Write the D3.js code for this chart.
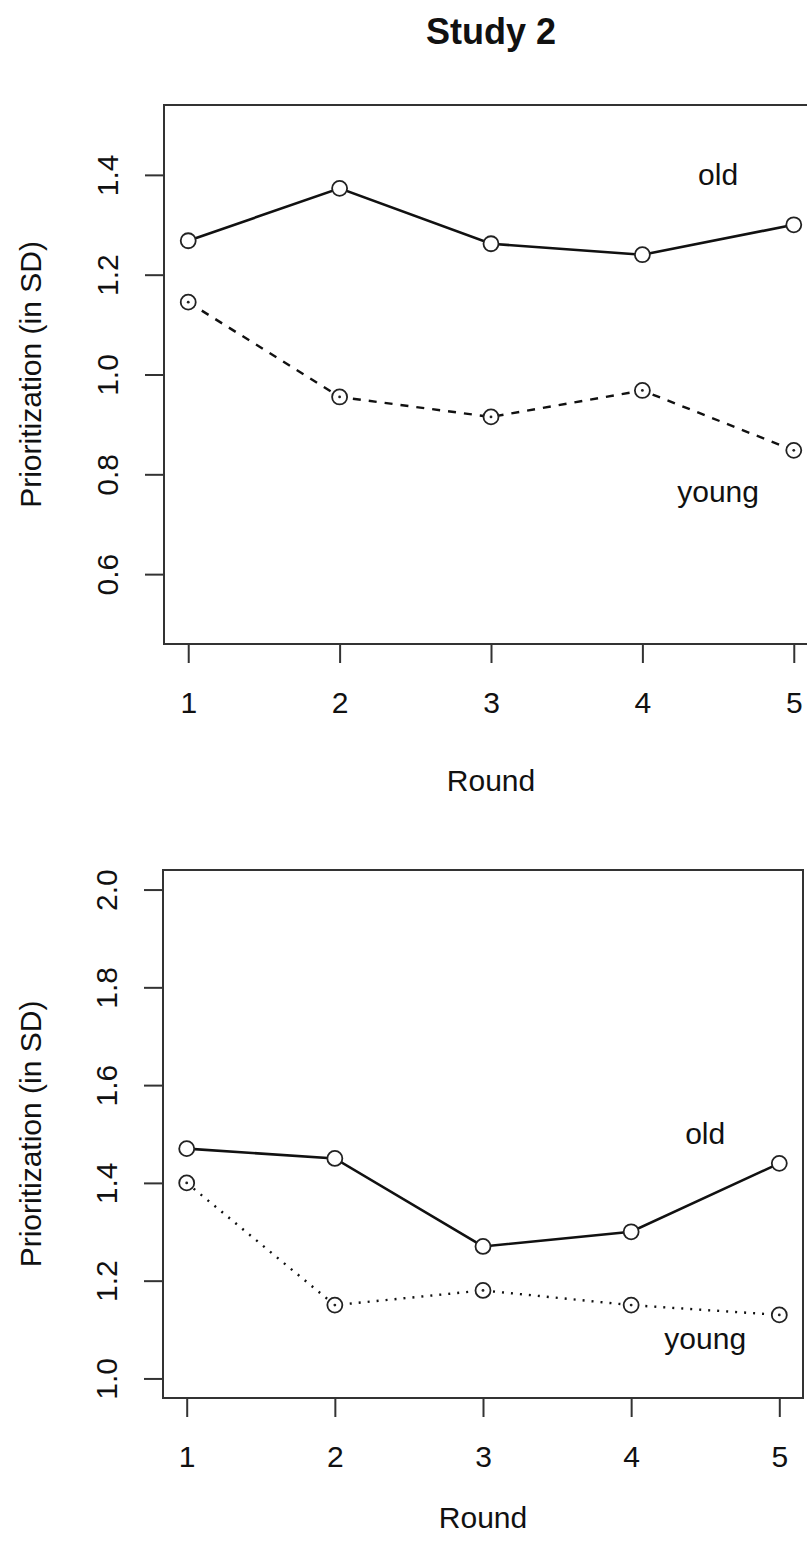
<!DOCTYPE html>
<html>
<head>
<meta charset="utf-8">
<script src="https://cdn.jsdelivr.net/npm/d3@7"></script>
<style>
  body { margin: 0; background: #fff; }
  text { font-family: "Liberation Sans", Arial, Helvetica, sans-serif; fill: #111; }
</style>
</head>
<body>
<div id="chart"></div>
<script>
// data
var rounds = [1, 2, 3, 4, 5];

var topOld = [1.268, 1.373, 1.262, 1.240, 1.300];
var topYoung = [1.145, 0.955, 0.915, 0.968, 0.848];
var topTicks = [0.6, 0.8, 1.0, 1.2, 1.4];

var botOld = [1.47, 1.45, 1.27, 1.30, 1.44];
var botYoung = [1.40, 1.15, 1.18, 1.15, 1.13];
var botTicks = [1.0, 1.2, 1.4, 1.6, 1.8, 2.0];

var svgWidth = 807;
var svgHeight = 1544;

var $svg = d3
  .select("#chart")
  .append("svg")
  .attr("width", svgWidth)
  .attr("height", svgHeight);

// title
$svg.append("text")
  .attr("x", 491)
  .attr("y", 44)
  .attr("text-anchor", "middle")
  .attr("font-size", "36px")
  .attr("font-weight", "bold")
  .text("Study 2");

function drawPanel(p) {
  var x = d3.scaleLinear().domain([0.84, 5.16]).range([p.left, p.right]);
  var y = d3.scaleLinear().domain(p.ydom).range([p.bottom, p.top]);

  var g = $svg.append("g");

  // x axis
  var xAxis = d3.axisBottom(x).tickValues(rounds).tickSize(19).tickPadding(29)
    .tickFormat(d3.format("d"));
  var gx = g.append("g")
    .attr("transform", `translate(0, ${p.bottom})`)
    .call(xAxis);
  gx.select(".domain").remove();
  gx.selectAll("line").attr("stroke", "#333").attr("stroke-width", 2);
  gx.selectAll("text").attr("font-size", "30px").attr("fill", "#111");

  // y axis
  var yAxis = d3.axisLeft(y).tickValues(p.ticks).tickSize(19)
    .tickFormat(d3.format(".1f"));
  var gy = g.append("g")
    .attr("transform", `translate(${p.left}, 0)`)
    .call(yAxis);
  gy.select(".domain").remove();
  gy.selectAll("line").attr("stroke", "#333").attr("stroke-width", 2);
  gy.selectAll("text")
    .attr("x", null).attr("dy", null)
    .attr("text-anchor", "middle")
    .attr("font-size", "30px")
    .attr("fill", "#111")
    .attr("transform", "translate(-46, 0) rotate(-90)");

  // axis titles
  g.append("text")
    .attr("x", (p.left + p.right) / 2)
    .attr("y", p.bottom + p.roundOff)
    .attr("text-anchor", "middle")
    .attr("font-size", "30px")
    .text("Round");

  g.append("text")
    .attr("transform", `translate(41, ${(p.top + p.bottom) / 2}) rotate(-90)`)
    .attr("text-anchor", "middle")
    .attr("font-size", "30px")
    .text("Prioritization (in SD)");

  // lines
  var line = d3.line().x((d, i) => x(rounds[i])).y(d => y(d));

  g.append("path")
    .datum(p.old)
    .attr("d", line)
    .attr("fill", "none")
    .attr("stroke", "#111")
    .attr("stroke-width", 2.6);

  g.append("path")
    .datum(p.young)
    .attr("d", line)
    .attr("fill", "none")
    .attr("stroke", "#111")
    .attr("stroke-width", 2.4)
    .attr("stroke-dasharray", p.dash);

  // points
  [p.old, p.young].forEach(function(series, k) {
    g.selectAll(null)
      .data(series)
      .enter()
      .append("circle")
      .attr("cx", (d, i) => x(rounds[i]))
      .attr("cy", d => y(d))
      .attr("r", 7.5)
      .attr("fill", "#fff")
      .attr("stroke", "#222")
      .attr("stroke-width", 1.8);
    if (k === 1) {
      g.selectAll(null)
        .data(series)
        .enter()
        .append("circle")
        .attr("cx", (d, i) => x(rounds[i]))
        .attr("cy", d => y(d))
        .attr("r", 1.4)
        .attr("fill", "#222");
    }
  });

  // group labels
  g.append("text")
    .attr("x", x(p.oldLab[0]))
    .attr("y", y(p.oldLab[1]))
    .attr("text-anchor", "middle")
    .attr("font-size", "30px")
    .text("old");

  g.append("text")
    .attr("x", x(p.youngLab[0]))
    .attr("y", y(p.youngLab[1]))
    .attr("text-anchor", "middle")
    .attr("font-size", "30px")
    .text("young");

  // box
  g.append("rect")
    .attr("x", p.left)
    .attr("y", p.top)
    .attr("width", p.right - p.left)
    .attr("height", p.bottom - p.top)
    .attr("fill", "none")
    .attr("stroke", "#333")
    .attr("stroke-width", 2);
}

drawPanel({
  left: 164, right: 818, top: 105, bottom: 644,
  ydom: [0.46, 1.54], ticks: topTicks, roundOff: 147,
  old: topOld, young: topYoung, dash: "8,8",
  oldLab: [4.5, 1.38], youngLab: [4.5, 0.745]
});

drawPanel({
  left: 163, right: 803, top: 870, bottom: 1398,
  ydom: [0.96, 2.04], ticks: botTicks, roundOff: 130,
  old: botOld, young: botYoung, dash: "2,7",
  oldLab: [4.5, 1.48], youngLab: [4.5, 1.06]
});
</script>
</body>
</html>
